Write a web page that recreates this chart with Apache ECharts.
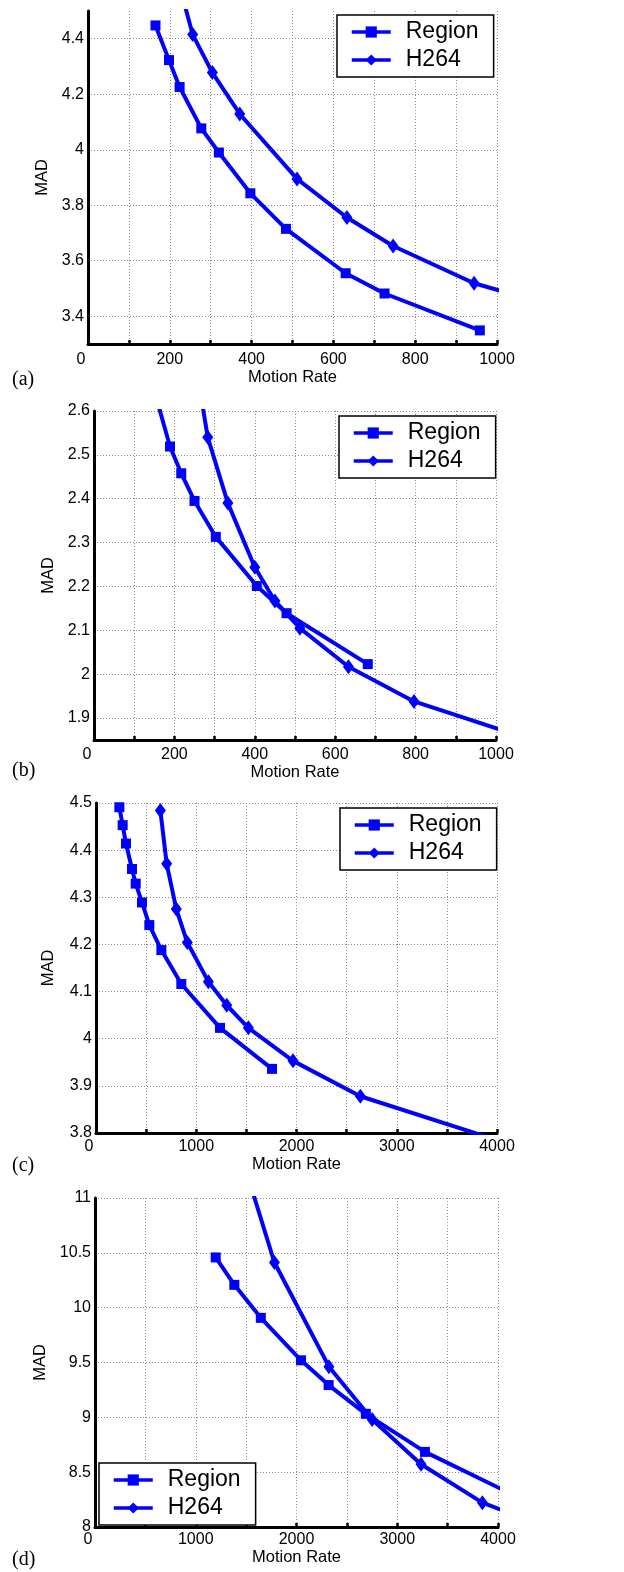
<!DOCTYPE html>
<html><head><meta charset="utf-8">
<script src="https://cdn.jsdelivr.net/npm/echarts@6/dist/echarts.min.js"></script>
<style>html,body{margin:0;padding:0;background:#fff}#c{width:624px;height:1572px}</style>
</head><body><div id="c"></div>
<script>
// ---- data ----
const seriesNames = ['Region', 'H264'];
const panelLabels = ['(a)', '(b)', '(c)', '(d)'];
const xAxisName = 'Motion Rate';
const yAxisName = 'MAD';

const regionA = [[165,4.448],[198,4.323],[224,4.226],[277,4.077],[320,3.990],[397,3.843],[484,3.715],[630,3.555],[725,3.482],[958,3.349]];
const h264A   = [[222,4.60],[256,4.415],[304,4.278],[371,4.129],[511,3.895],[633,3.756],[746,3.653],[944,3.519],[1200,3.41]];

const regionB = [[155,2.63],[189,2.519],[217,2.458],[250,2.395],[303,2.313],[405,2.201],[479,2.139],[681,2.023]];
const h264B   = [[265,2.64],[283,2.540],[333,2.390],[400,2.244],[450,2.167],[512,2.105],[633,2.017],[796,1.938],[1150,1.832]];

const regionC = [[233,4.491],[266,4.453],[299,4.414],[359,4.360],[396,4.329],[459,4.289],[532,4.241],[652,4.188],[851,4.116],[1237,4.023],[1756,3.936]];
const h264C   = [[642,4.484],[705,4.371],[801,4.275],[911,4.204],[1121,4.121],[1304,4.071],[1520,4.023],[1965,3.953],[2637,3.878],[4100,3.778]];

const regionD = [[1198,10.458],[1383,10.208],[1646,9.907],[2045,9.520],[2319,9.294],[2688,9.032],[3275,8.685],[4300,8.227]];
const h264D   = [[1550,11.1],[1781,10.412],[2322,9.462],[2751,8.980],[3236,8.572],[3845,8.222],[4200,8.096]];

const xLabelsAB = [0,200,400,600,800,1000];
const xLabelsCD = [0,1000,2000,3000,4000];
const yLabelsA = [3.4,3.6,3.8,4,4.2,4.4];
const yLabelsB = [1.9,2,2.1,2.2,2.3,2.4,2.5,2.6];
const yLabelsC = [3.8,3.9,4,4.1,4.2,4.3,4.4,4.5];
const yLabelsD = [8,8.5,9,9.5,10,10.5,11];

// ---- styling / layout ----
const BLUE = '#0000ff';
const FONT = 'Liberation Sans, Arial, sans-serif';
const GRIDC = '#8a8a8a';

const panels = [
  {grid:{left:88,top:11,width:409,height:333}, x:{min:0,max:1000,step:100,labels:xLabelsAB,labelMargin:8,nameGap:23},
   y:{min:3.3,max:4.5,step:0.1,labels:yLabelsA,nameGap:31}, region:regionA, h264:h264A,
   legend:{left:337,top:15}, tag:{top:370}},
  {grid:{left:94,top:411,width:402,height:329}, x:{min:0,max:1000,step:100,labels:xLabelsAB,labelMargin:7,nameGap:20},
   y:{min:1.85,max:2.6,step:0.05,labels:yLabelsB,nameGap:37}, region:regionB, h264:h264B,
   legend:{left:339,top:416}, tag:{top:761}},
  {grid:{left:96,top:803,width:401,height:330}, x:{min:0,max:4000,step:500,labels:xLabelsCD,labelMargin:6,nameGap:19},
   y:{min:3.8,max:4.5,step:0.1,labels:yLabelsC,nameGap:39}, region:regionC, h264:h264C,
   legend:{left:340,top:808}, tag:{top:1156}},
  {grid:{left:95,top:1198,width:403,height:329}, x:{min:0,max:4000,step:500,labels:xLabelsCD,labelMargin:5,nameGap:20},
   y:{min:8,max:11,step:0.5,labels:yLabelsD,nameGap:38}, region:regionD, h264:h264D,
   legend:{left:99,top:1463}, tag:{top:1550}}
];

const near = (arr, v) => arr.some(l => Math.abs(l - v) < 1e-6);

function splitColors(y) {
  const n = Math.round((y.max - y.min) / y.step);
  const out = [];
  for (let i = 0; i <= n; i++) {
    const v = y.min + i * y.step;
    out.push(near(y.labels, +v.toFixed(4)) ? GRIDC : 'rgba(0,0,0,0)');
  }
  return out;
}

const option = {
  animation: false,
  backgroundColor: '#fff',
  grid: panels.map(p => Object.assign({containLabel:false}, p.grid)),
  xAxis: panels.map((p, i) => ({
    type:'value', gridIndex:i, min:p.x.min, max:p.x.max, interval:p.x.step,
    name:xAxisName, nameLocation:'middle', nameGap:p.x.nameGap,
    nameTextStyle:{fontSize:16.5, color:'#000', fontFamily:FONT},
    axisLine:{show:true, onZero:false, lineStyle:{color:'#000', width:3}},
    axisTick:{show:true, inside:true, length:4, lineStyle:{color:'#000', width:2.5}},
    axisLabel:{show:true, margin:p.x.labelMargin, fontSize:16, color:'#000', fontFamily:FONT,
      showMinLabel:true, showMaxLabel:true,
      formatter: v => near(p.x.labels, v) ? (v === 0 ? '{z|0}' : String(v)) : '',
      rich:{z:{padding:[0,14,0,0], fontSize:16, color:'#000', fontFamily:FONT}}},
    splitLine:{show:true, lineStyle:{color:GRIDC, width:1, type:[1,2]}}
  })),
  yAxis: panels.map((p, i) => ({
    type:'value', gridIndex:i, min:p.y.min, max:p.y.max, interval:p.y.step,
    name:yAxisName, nameLocation:'middle', nameGap:p.y.nameGap,
    nameTextStyle:{fontSize:16.5, color:'#000', fontFamily:FONT},
    axisLine:{show:true, onZero:false, lineStyle:{color:'#000', width:3}},
    axisTick:{show:false},
    axisLabel:{show:true, margin:4, fontSize:16, color:'#000', fontFamily:FONT,
      showMinLabel:true, showMaxLabel:true,
      formatter: v => near(p.y.labels, +(+v).toFixed(4)) ? String(+(+v).toFixed(2)) : ''},
    splitLine:{show:true, lineStyle:{color:splitColors(p.y), width:1, type:[1,2]}}
  })),
  legend: panels.map(p => ({
    left:p.legend.left, top:p.legend.top, orient:'vertical',
    data:seriesNames, itemWidth:39, itemHeight:14, itemGap:0,
    padding:[3,15,3,13], backgroundColor:'#fff', borderColor:'#000', borderWidth:1.5, borderRadius:0,
    selectedMode:false,
    lineStyle:{width:3.5},
    textStyle:{fontSize:23, lineHeight:28, color:'#000', fontFamily:FONT, padding:[0,0,0,10]}
  })),
  graphic: panels.map((p, i) => ({
    type:'text', left:12, top:p.tag.top,
    style:{text:panelLabels[i], font:'20px "Liberation Serif", "Times New Roman", serif', fill:'#000'}
  })),
  series: panels.flatMap((p, i) => [
    {name:seriesNames[0], type:'line', xAxisIndex:i, yAxisIndex:i, data:p.region,
     symbol:'rect', symbolSize:10, showAllSymbol:true, clip:true,
     lineStyle:{color:BLUE, width:4}, itemStyle:{color:BLUE}, emphasis:{disabled:true}},
    {name:seriesNames[1], type:'line', xAxisIndex:i, yAxisIndex:i, data:p.h264,
     symbol:'diamond', symbolSize:[11,15], showAllSymbol:true, clip:true,
     lineStyle:{color:BLUE, width:4}, itemStyle:{color:BLUE}, emphasis:{disabled:true}}
  ])
};

const chart = echarts.init(document.getElementById('c'), null, {renderer:'canvas'});
chart.setOption(option);
</script>
</body></html>
